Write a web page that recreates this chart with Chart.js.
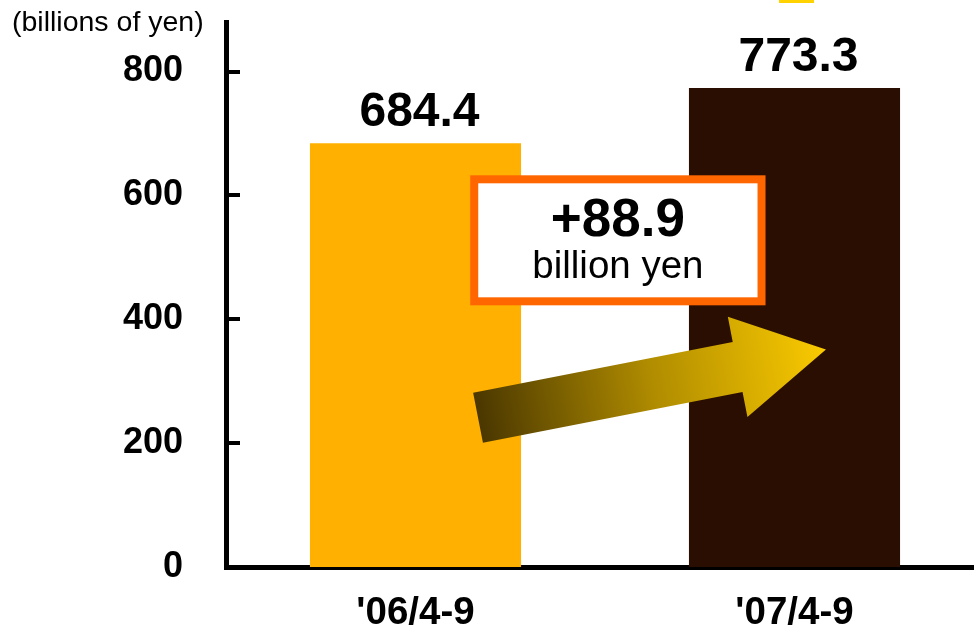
<!DOCTYPE html>
<html lang="en">
<head>
<meta charset="UTF-8" />
<title>Net sales, first half</title>
<script src="https://cdn.jsdelivr.net/npm/chart.js"></script>
<style>
  html, body { margin: 0; padding: 0; background: #fff; overflow: hidden; }
  canvas { display: block; }
</style>
</head>
<body>
<!-- canvas a bit wider than the window: the x axis runs off the right edge like in the slide -->
<canvas id="salesChart" width="984" height="627"></canvas>

<script>
const periods = ["'06/4-9", "'07/4-9"];
const sales = [684.4, 773.3];
const barColors = ['#FFB000', '#2B0E02'];
const yTicks = [0, 200, 400, 600, 800];
const unitLabel = '(billions of yen)';
const diffUnit = 'billion yen';

const FONT = "'Liberation Sans', Arial, sans-serif";

// extra drawing: inner ticks, unit label, value labels, the box and the arrow
const decorations = {
    id: 'decorations',
    afterDraw(chart) {
        const ctx = chart.ctx;
        const xs = chart.scales.x;
        const ys = chart.scales.y;
        const area = chart.chartArea;
        ctx.save();

        // tick marks point inside the plot
        ctx.strokeStyle = '#000';
        ctx.lineWidth = 4;
        yTicks.forEach(v => {
            const py = Math.round(ys.getPixelForValue(v));
            ctx.beginPath();
            ctx.moveTo(area.left, py);
            ctx.lineTo(area.left + 14, py);
            ctx.stroke();
        });

        // unit label at top left
        ctx.fillStyle = '#000';
        ctx.textBaseline = 'alphabetic';
        ctx.textAlign = 'left';
        ctx.font = '28.5px ' + FONT;
        ctx.fillText(unitLabel, 12, 31);

        // values above the bars
        ctx.textAlign = 'center';
        ctx.font = 'bold 48px ' + FONT;
        chart.getDatasetMeta(0).data.forEach((bar, i) => {
            ctx.fillText(sales[i].toFixed(1), bar.x + 4, bar.y - 17);
        });

        // growth arrow, from tail centre to tip (category index, value)
        const tail = { x: xs.getPixelForValue(0.165), y: ys.getPixelForValue(241) };
        const tip = { x: xs.getPixelForValue(1.083), y: ys.getPixelForValue(351) };
        const len = Math.hypot(tip.x - tail.x, tip.y - tail.y);
        const ux = (tip.x - tail.x) / len, uy = (tip.y - tail.y) / len;
        const nx = -uy, ny = ux;
        const shaft = 25.5, head = 51, headLen = 90;
        const pt = (a, b) => [tail.x + ux * a + nx * b, tail.y + uy * a + ny * b];
        const poly = [
            pt(0, -shaft), pt(len - headLen, -shaft), pt(len - headLen, -head),
            pt(len, 0),
            pt(len - headLen, head), pt(len - headLen, shaft), pt(0, shaft)
        ];
        const grad = ctx.createLinearGradient(tail.x, tail.y, tip.x, tip.y);
        grad.addColorStop(0, '#4A3700');
        grad.addColorStop(0.5, '#B08C00');
        grad.addColorStop(1, '#FACA00');
        ctx.fillStyle = grad;
        ctx.beginPath();
        poly.forEach(([px, py], i) => i ? ctx.lineTo(px, py) : ctx.moveTo(px, py));
        ctx.closePath();
        ctx.fill();

        // difference box
        const bx1 = xs.getPixelForValue(0.155), bx2 = xs.getPixelForValue(0.913);
        const by1 = ys.getPixelForValue(626), by2 = ys.getPixelForValue(429);
        ctx.fillStyle = '#fff';
        ctx.fillRect(bx1, by1, bx2 - bx1, by2 - by1);
        ctx.strokeStyle = '#FF6600';
        ctx.lineWidth = 8;
        ctx.strokeRect(bx1, by1, bx2 - bx1, by2 - by1);

        const diff = '+' + (sales[1] - sales[0]).toFixed(1);
        const cx = (bx1 + bx2) / 2;
        ctx.fillStyle = '#000';
        ctx.font = 'bold 53px ' + FONT;
        ctx.fillText(diff, cx, by1 + 57);
        ctx.font = '38.5px ' + FONT;
        ctx.fillText(diffUnit, cx, by1 + 99);

        // small yellow strip cut off at the top of the slide
        ctx.fillStyle = '#FFD200';
        ctx.fillRect(779, 0, 35, 3);

        ctx.restore();
    }
};

// drop the label half-height paddings so the plot area sits where the slide has it
function noPad(s) {
    s.paddingTop = 0;
    s.paddingBottom = 0;
    s.paddingLeft = 0;
    s.paddingRight = 0;
}

window.onload = function () {
    const ctx = document.getElementById('salesChart').getContext('2d');

    new Chart(ctx, {
        type: 'bar',
        data: {
            labels: periods,
            datasets: [{
                data: sales,
                backgroundColor: barColors,
                borderWidth: 0,
                barPercentage: 0.557,
                categoryPercentage: 1
            }]
        },
        options: {
            responsive: false,
            animation: false,
            devicePixelRatio: 1,
            layout: { padding: { top: 22, right: 0, bottom: 0, left: 0 } },
            plugins: {
                legend: { display: false },
                tooltip: { enabled: false }
            },
            scales: {
                x: {
                    grid: { display: false, drawTicks: false },
                    border: { display: true, color: '#000', width: 5 },
                    ticks: {
                        color: '#000',
                        padding: 23,
                        font: { family: FONT, size: 38.5, weight: 'bold' }
                    },
                    afterFit: s => { s.height = 60; noPad(s); }
                },
                y: {
                    min: 0,
                    max: 880,
                    grid: { display: false, drawTicks: false },
                    border: { display: true, color: '#000', width: 5 },
                    ticks: {
                        color: '#000',
                        padding: 43,
                        font: { family: FONT, size: 36, weight: 'bold' }
                    },
                    afterBuildTicks: s => { s.ticks = yTicks.map(v => ({ value: v })); },
                    afterFit: s => { s.width = 226; noPad(s); }
                }
            }
        },
        plugins: [decorations]
    });
};
</script>
</body>
</html>
